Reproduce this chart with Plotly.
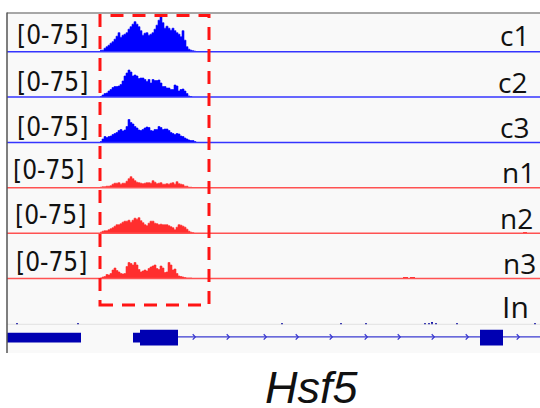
import plotly.graph_objects as go

# ---------------- data ----------------
# coverage tracks (data range 0-75), 0.2 kb bins starting at 9.3 kb
bin_start_kb = 9.3
bin_kb = 0.2
c1 = [3, 3, 7, 10, 13, 17, 20, 25, 31, 38, 29, 33, 35, 38, 45, 50, 55, 60, 55, 50, 42, 33, 37, 38,
      33, 35, 38, 45, 53, 63, 70, 58, 47, 51, 47, 43, 47, 42, 38, 35, 30, 42, 23, 10, 5, 3, 2, 1]
c2 = [1, 4, 7, 8, 12, 15, 19, 21, 21, 22, 25, 32, 42, 48, 54, 50, 42, 44, 42, 37, 38, 38, 35,
      31, 35, 28, 35, 33, 33, 34, 28, 21, 21, 18, 18, 15, 15, 24, 22, 12, 15, 16, 12, 7, 2, 1]
c3 = [2, 7, 12, 10, 12, 13, 16, 18, 20, 24, 26, 23, 25, 32, 46, 40, 37, 32, 29, 25, 24, 26, 29, 31,
      30, 24, 23, 26, 26, 32, 30, 26, 27, 27, 24, 20, 18, 16, 18, 17, 13, 12, 9, 7, 5, 4, 4, 2]
n1 = [1, 2, 2, 3, 3, 4, 7, 9, 9, 10, 7, 9, 9, 13, 18, 22, 18, 14, 11, 10, 9, 8, 9, 10, 10, 9, 14,
      11, 8, 9, 10, 7, 7, 8, 7, 9, 10, 7, 12, 8, 7, 6, 3, 3, 1, 1]
n2 = [2, 4, 5, 5, 7, 9, 11, 14, 17, 17, 19, 22, 24, 24, 26, 22, 26, 30, 28, 31, 25, 21, 17, 15,
      20, 24, 24, 20, 19, 17, 18, 17, 17, 17, 15, 13, 11, 7, 12, 17, 16, 14, 12, 8, 4, 2, 1]
n3 = [1, 3, 4, 8, 7, 10, 17, 21, 16, 13, 10, 9, 10, 24, 32, 30, 27, 32, 27, 18, 13, 15, 17, 15,
      20, 23, 25, 27, 20, 18, 25, 21, 12, 13, 32, 27, 17, 19, 10, 5, 4, 3, 2, 1, 1, 1]

# sparse small signals elsewhere
n2_extra_kb = [51.8]
n2_extra_val = [2]
n3_extra_kb = [39.8, 40.5]
n3_extra_val = [3, 3]
input_kb = [1.0, 7.1, 27.5, 33.4, 35.9, 41.8, 42.2, 42.5, 42.9, 45.0, 52.8]
input_val = [3, 3, 3, 3, 3, 3, 3, 5, 3, 3, 3]

track_names = ["c1", "c2", "c3", "n1", "n2", "n3", "In"]
range_label = "[0-75]"

# gene model (kb)
utr_blocks = [(0.0, 7.4), (12.6, 13.3)]
cds_blocks = [(13.3, 17.1), (47.3, 49.6)]
intron_span = (17.1, 53.3)
chevron_kb = [18.7, 22.1, 25.8, 29.0, 32.4, 35.9, 39.2, 42.6, 46.0, 51.1]
chevron_in_exon_kb = [16.6]
gene_name = "Hsf5"

highlight_kb = (9.3, 20.2)
region_kb = (0.0, 53.3)

# ---------------- styling ----------------
W, H = 540, 408
PANEL_L = 7
BLUE = "#0000ff"
RED = "#ff2e2e"
BLUE_LINE = "#3434ff"
RED_LINE = "#ff5252"
GENE = "#0000b2"
GENE_LINE = "#3a3ad0"
TRACK_PX = 37.5      # pixels for the 0-75 data range
PAD_PX = 2.0         # extra room below the baseline so the baseline is not clipped

def py(p):
    return 1 - p / H

baselines = [51.7, 97.0, 142.5, 187.7, 233.2, 278.5, 324.3]
series = [c1, c2, c3, n1, n2, n3]
fills = [BLUE, BLUE, BLUE, RED, RED, RED]
lines = [BLUE_LINE, BLUE_LINE, BLUE_LINE, RED_LINE, RED_LINE, RED_LINE]

fig = go.Figure()
layout = {}
shapes = []

def yname(i):
    return "y" if i == 0 else f"y{i+1}"

def ykey(i):
    return "yaxis" if i == 0 else f"yaxis{i+1}"

# panel background
shapes.append(dict(type="rect", xref="paper", yref="paper", x0=PANEL_L / W, x1=1,
                   y0=py(353), y1=py(13), fillcolor="#f9f9f9", line=dict(width=0), layer="below"))

for i, vals in enumerate(series):
    xs = [bin_start_kb + k * bin_kb for k in range(len(vals))]
    xs = xs + [xs[-1] + bin_kb]
    ys = list(vals) + [0]
    fig.add_trace(go.Scatter(x=xs, y=ys, mode="lines", line=dict(shape="hv", color=fills[i], width=0.6),
                             fill="tozeroy", fillcolor=fills[i], xaxis="x", yaxis=yname(i),
                             hoverinfo="skip", showlegend=False))

# sparse extras
fig.add_trace(go.Bar(x=n2_extra_kb, y=n2_extra_val, width=0.4, marker=dict(color=RED, line=dict(width=0)),
                     xaxis="x", yaxis=yname(4), showlegend=False, hoverinfo="skip"))
fig.add_trace(go.Bar(x=n3_extra_kb, y=n3_extra_val, width=0.5, marker=dict(color=RED, line=dict(width=0)),
                     xaxis="x", yaxis=yname(5), showlegend=False, hoverinfo="skip"))
fig.add_trace(go.Bar(x=input_kb, y=input_val, width=0.25, marker=dict(color="#1a1aa8", line=dict(width=0)),
                     xaxis="x", yaxis=yname(6), showlegend=False, hoverinfo="skip"))

units_per_px = 75 / TRACK_PX
for i, b in enumerate(baselines):
    layout[ykey(i)] = dict(domain=[py(b + PAD_PX), py(b - TRACK_PX)],
                           range=[-PAD_PX * units_per_px, 75], visible=False,
                           fixedrange=True, anchor="x")
    col = lines[i] if i < 6 else "#e2e2e2"
    shapes.append(dict(type="line", xref="paper", yref=yname(i), x0=PANEL_L / W, x1=1, y0=0, y1=0,
                       line=dict(color=col, width=1.6 if i < 6 else 1), layer="above"))

# gene track axis (index 7)
gene_c = 337.6
layout["yaxis8"] = dict(domain=[py(gene_c + 10), py(gene_c - 10)], range=[-1, 1], visible=False,
                        fixedrange=True, anchor="x")
shapes.append(dict(type="line", xref="x", yref="y8", x0=intron_span[0], x1=intron_span[1], y0=0.07, y1=0.07,
                   line=dict(color=GENE_LINE, width=1.3)))
for a, b in utr_blocks:
    shapes.append(dict(type="rect", xref="x", yref="y8", x0=a, x1=b, y0=-0.48, y1=0.48,
                       fillcolor=GENE, line=dict(width=0)))
for a, b in cds_blocks:
    shapes.append(dict(type="rect", xref="x", yref="y8", x0=a, x1=b, y0=-0.78, y1=0.78,
                       fillcolor=GENE, line=dict(width=0)))

def chevrons(pos):
    xs, ys = [], []
    for p in pos:
        xs += [p - 0.13, p + 0.13, p - 0.13, None]
        ys += [0.34, 0.07, -0.2, None]
    return xs, ys

cx, cy = chevrons(chevron_kb)
fig.add_trace(go.Scatter(x=cx, y=cy, mode="lines", line=dict(color=GENE_LINE, width=1.3),
                         xaxis="x", yaxis="y8", hoverinfo="skip", showlegend=False))
cx, cy = chevrons(chevron_in_exon_kb)
fig.add_trace(go.Scatter(x=cx, y=cy, mode="lines", line=dict(color="white", width=1.2),
                         xaxis="x", yaxis="y8", hoverinfo="skip", showlegend=False))

# panel borders
shapes.append(dict(type="line", xref="paper", yref="paper", x0=PANEL_L / W, x1=1, y0=py(13), y1=py(13),
                   line=dict(color="#8a8a8a", width=1.5)))
shapes.append(dict(type="line", xref="paper", yref="paper", x0=PANEL_L / W, x1=PANEL_L / W,
                   y0=py(353), y1=py(12.5), line=dict(color="#555555", width=1.5)))

# highlight dashed box
shapes.append(dict(type="rect", xref="x", yref="paper", x0=highlight_kb[0], x1=highlight_kb[1],
                   y0=py(305), y1=py(15.5), fillcolor="rgba(0,0,0,0)",
                   line=dict(color="#ff1414", width=3, dash="13px,9px")))

annotations = []
left_x = [15, 15, 15, 11, 13, 14]
left_y = [35, 82, 127, 170, 215, 262]
for lx, ly in zip(left_x, left_y):
    annotations.append(dict(text=range_label, xref="paper", yref="paper", x=lx / W, y=py(ly),
                            xanchor="left", yanchor="middle", showarrow=False,
                            font=dict(family="DejaVu Sans Condensed, DejaVu Sans", size=26, color="#111111")))
right_x = [531, 529, 531, 537, 535, 538, 531]
right_y = [35, 82, 127, 172, 218, 263, 306]
for name, rx, ry in zip(track_names, right_x, right_y):
    annotations.append(dict(text=name, xref="paper", yref="paper", x=rx / W, y=py(ry),
                            xanchor="right", yanchor="middle", showarrow=False,
                            font=dict(family="Open Sans", size=30 if name == "In" else 28, color="#111111")))
annotations.append(dict(text=f"<i>{gene_name}</i>", xref="paper", yref="paper", x=312 / W, y=py(387),
                        xanchor="center", yanchor="middle", showarrow=False,
                        font=dict(family="Liberation Sans, Arial", size=45, color="#111111")))

fig.update_layout(
    width=W, height=H, margin=dict(l=0, r=0, t=0, b=0),
    paper_bgcolor="white", plot_bgcolor="rgba(0,0,0,0)",
    xaxis=dict(domain=[PANEL_L / W, 1], range=list(region_kb), visible=False, fixedrange=True),
    shapes=shapes, annotations=annotations, bargap=0, barmode="overlay",
    showlegend=False,
    **layout,
)

fig.write_html("out.html", config={"displayModeBar": False},
               post_script="document.body.style.margin='0';document.body.style.overflow='hidden';")
